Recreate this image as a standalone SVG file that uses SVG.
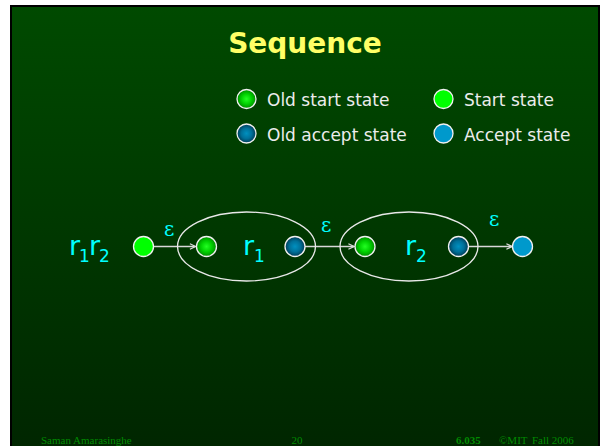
<svg xmlns="http://www.w3.org/2000/svg" width="602" height="446" viewBox="0 0 602 446">
  <defs>
    <linearGradient id="bg" x1="0" y1="0" x2="0" y2="1">
      <stop offset="0" stop-color="#004a00"/>
      <stop offset="1" stop-color="#002600"/>
    </linearGradient>
    <radialGradient id="oldStart" cx="0.5" cy="0.5" r="0.5">
      <stop offset="0" stop-color="#22ff22"/>
      <stop offset="0.55" stop-color="#00d000"/>
      <stop offset="1" stop-color="#008a00"/>
    </radialGradient>
    <radialGradient id="oldAccept" cx="0.5" cy="0.5" r="0.5">
      <stop offset="0" stop-color="#0090c0"/>
      <stop offset="0.55" stop-color="#007099"/>
      <stop offset="1" stop-color="#003a55"/>
    </radialGradient>
    <marker id="arrow" viewBox="0 0 10 10" refX="9" refY="5" markerWidth="7" markerHeight="7" markerUnits="userSpaceOnUse" orient="auto">
      <path d="M1,1 L9,5 L1,9" fill="none" stroke="#dcdcdc" stroke-width="1.6"/>
    </marker>
  </defs>
  <style>
    .title { font-family: "DejaVu Sans", Verdana, sans-serif; font-weight: bold; font-size: 28px; fill: #ffff66; }
    .legend { font-family: "DejaVu Sans", Verdana, sans-serif; font-size: 17px; fill: #ececec; }
    .label { font-family: "DejaVu Sans", Verdana, sans-serif; font-size: 27px; fill: #00ffff; }
    .sub { font-size: 17px; }
    .eps { font-family: "DejaVu Serif", "Liberation Serif", serif; font-size: 20px; fill: #00ffff; }
    .state { stroke: #f0f0f0; stroke-width: 1.3; }
    .start { fill: #00ff00; }
    .accept { fill: #0099cc; }
    .os { fill: url(#oldStart); }
    .oa { fill: url(#oldAccept); }
    .box { fill: none; stroke: #e8e8e8; stroke-width: 1.3; }
    .edge { stroke: #d8d8d8; stroke-width: 1.4; fill: none; marker-end: url(#arrow); }
    .foot { font-family: "Liberation Serif", "Times New Roman", serif; font-size: 11px; fill: #008a00; }
  </style>

  <!-- slide frame -->
  <rect x="0" y="0" width="602" height="446" fill="#ffffff"/>
  <rect x="10" y="5" width="590" height="441" fill="#000000"/>
  <rect x="12" y="7" width="586" height="439" fill="url(#bg)"/>

  <text class="title" x="305" y="53" text-anchor="middle">Sequence</text>

  <!-- legend -->
  <g id="legend">
    <circle class="state os" cx="246.5" cy="99" r="9.5"/>
    <text class="legend" x="267" y="106">Old start state</text>
    <circle class="state start" cx="443.5" cy="99" r="9.5"/>
    <text class="legend" x="464" y="106">Start state</text>
    <circle class="state oa" cx="246.5" cy="133.5" r="9.5"/>
    <text class="legend" x="267" y="141">Old accept state</text>
    <circle class="state accept" cx="443.5" cy="133.5" r="9.5"/>
    <text class="legend" x="464" y="141">Accept state</text>
  </g>

  <text class="label" x="69" y="255" letter-spacing="-1">r<tspan class="sub" dy="7">1</tspan><tspan dy="-7">r</tspan><tspan class="sub" dy="7">2</tspan></text>

  <!-- connectors -->
  <g id="connectors">
    <line class="edge" x1="153.5" y1="246.5" x2="195.5" y2="246.5"/>
    <line class="edge" x1="305" y1="246.5" x2="354" y2="246.5"/>
    <line class="edge" x1="468.5" y1="246.5" x2="512" y2="246.5"/>
    <text class="eps" x="164" y="236">ε</text>
    <text class="eps" x="321" y="232">ε</text>
    <text class="eps" x="489" y="226">ε</text>
  </g>

  <!-- machine for r1 -->
  <g id="r1">
    <ellipse class="box" cx="246.5" cy="246.5" rx="69" ry="34.5"/>
    <text class="label" x="243" y="255">r<tspan class="sub" dy="7">1</tspan></text>
  </g>
  <!-- machine for r2 -->
  <g id="r2">
    <ellipse class="box" cx="409" cy="246.5" rx="69" ry="34.5"/>
    <text class="label" x="405" y="255">r<tspan class="sub" dy="7">2</tspan></text>
  </g>

  <g id="s0"><circle class="state start" cx="143.5" cy="246.5" r="10"/></g>
  <g id="s1"><circle class="state os" cx="206.5" cy="246.5" r="10"/></g>
  <g id="s2"><circle class="state oa" cx="295" cy="246.5" r="10"/></g>
  <g id="s3"><circle class="state os" cx="365" cy="246.5" r="10"/></g>
  <g id="s4"><circle class="state oa" cx="458.5" cy="246.5" r="10"/></g>
  <g id="s5"><circle class="state accept" cx="522.5" cy="246.5" r="10"/></g>

  <!-- footer -->
  <text class="foot" x="41" y="444">Saman Amarasinghe</text>
  <text class="foot" x="297" y="444" text-anchor="middle">20</text>
  <text class="foot" x="456" y="444" font-weight="bold" font-size="12px">6.035</text>
  <text class="foot" x="499" y="444" font-family="Liberation Sans, sans-serif" font-size="13px">©MIT</text>
  <text class="foot" x="532" y="444">Fall 2006</text>
</svg>
